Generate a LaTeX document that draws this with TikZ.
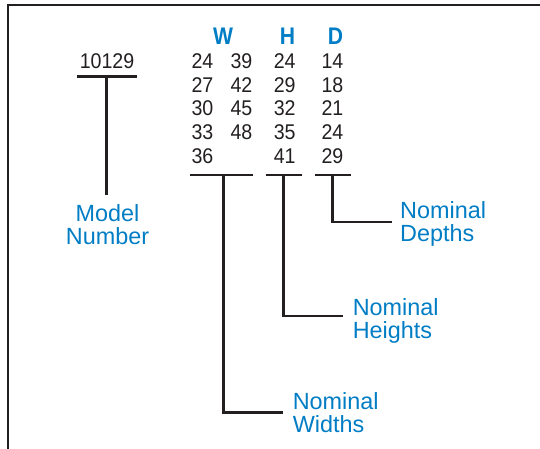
\documentclass[tikz,border=0pt]{standalone}
\usepackage{fontspec}
\setmainfont{Liberation Sans}
\newfontfamily\numfont[FakeStretch=0.92]{Liberation Sans}
\newfontfamily\hdfont[FakeStretch=0.88]{Liberation Sans}
\definecolor{lblblue}{RGB}{0,125,197}
\definecolor{ink}{RGB}{35,31,32}
\begin{document}
\begin{tikzpicture}[x=1pt,y=-1pt,
  line/.style={draw=ink, line width=2.8pt},
  num/.style={inner sep=0pt, anchor=base east, font=\fontsize{21.3}{21.3}\numfont, text=ink},
  hd/.style={inner sep=0pt, anchor=base, font=\fontsize{24}{24}\hdfont\bfseries, text=lblblue},
  lbl/.style={inner sep=0pt, anchor=base west, font=\fontsize{23.4}{23.4}\selectfont, text=lblblue}]
\useasboundingbox (0,0) rectangle (540,448);
\clip (0,0) rectangle (540,448);
% frame (extends past right and bottom edges)
\coordinate (frBL) at (8,460);
\coordinate (frTL) at (8,5);
\coordinate (frTR) at (560,5);
\draw[line, line join=miter] (frBL) -- (frTL) -- (frTR);
% model number
\node[num, anchor=base] (model) at (107,68.3) {10129};
% headings
\node[hd] (hW) at (223,44) {W};
\node[hd] (hH) at (287.5,44) {H};
\node[hd] (hD) at (335.5,44) {D};
% W column 1
\node[num] (w1) at (213.5,68.3) {24};
\node[num] (w2) at (213.5,92.0) {27};
\node[num] (w3) at (213.5,115.8) {30};
\node[num] (w4) at (213.5,139.6) {33};
\node[num] (w5) at (213.5,163.3) {36};
% W column 2
\node[num] (w6) at (252.5,68.3) {39};
\node[num] (w7) at (252.5,92.0) {42};
\node[num] (w8) at (252.5,115.8) {45};
\node[num] (w9) at (252.5,139.6) {48};
% H column
\node[num] (h1) at (295.8,68.3) {24};
\node[num] (h2) at (295.8,92.0) {29};
\node[num] (h3) at (295.8,115.8) {32};
\node[num] (h4) at (295.8,139.6) {35};
\node[num] (h5) at (295.8,163.3) {41};
% D column
\node[num] (d1) at (343.5,68.3) {14};
\node[num] (d2) at (343.5,92.0) {18};
\node[num] (d3) at (343.5,115.8) {21};
\node[num] (d4) at (343.5,139.6) {24};
\node[num] (d5) at (343.5,163.3) {29};
% labels
\node[lbl, anchor=base] (mod1) at (107.5,221.7) {Model};
\node[lbl, anchor=base] (mod2) at (107.5,244.2) {Number};
\node[lbl] (dep1) at (400,218) {Nominal};
\node[lbl] (dep2) at (400,241.5) {Depths};
\node[lbl] (hei1) at (352.6,315) {Nominal};
\node[lbl] (hei2) at (352.6,338) {Heights};
\node[lbl] (wid1) at (292.6,409.3) {Nominal};
\node[lbl] (wid2) at (292.6,432.3) {Widths};
% bracket coordinates
\coordinate (mbL) at (76.7,76.7);
\coordinate (mbR) at (136.7,76.7);
\coordinate (mbS) at (106.7,76.7);
\coordinate (mbE) at (106.7,195);
\coordinate (wbL) at (190,175);
\coordinate (wbR) at (253.3,175);
\coordinate (wbS) at (223.3,175);
\coordinate (wbE) at (282.7,412.7);
\coordinate (hbL) at (266,175);
\coordinate (hbR) at (301.7,175);
\coordinate (hbS) at (283.3,175);
\coordinate (hbE) at (342.7,316);
\coordinate (dbL) at (315,175);
\coordinate (dbR) at (351,175);
\coordinate (dbS) at (332.7,175);
\coordinate (dbE) at (392,222);
% connectors
\draw[line] (mbL) -- (mbR);
\draw[line] (mbS) -- (mbE);
\draw[line] (wbL) -- (wbR);
\draw[line, line join=miter] (wbS) |- (wbE);
\draw[line] (hbL) -- (hbR);
\draw[line, line join=miter] (hbS) |- (hbE);
\draw[line] (dbL) -- (dbR);
\draw[line, line join=miter] (dbS) |- (dbE);
\end{tikzpicture}
\end{document}
